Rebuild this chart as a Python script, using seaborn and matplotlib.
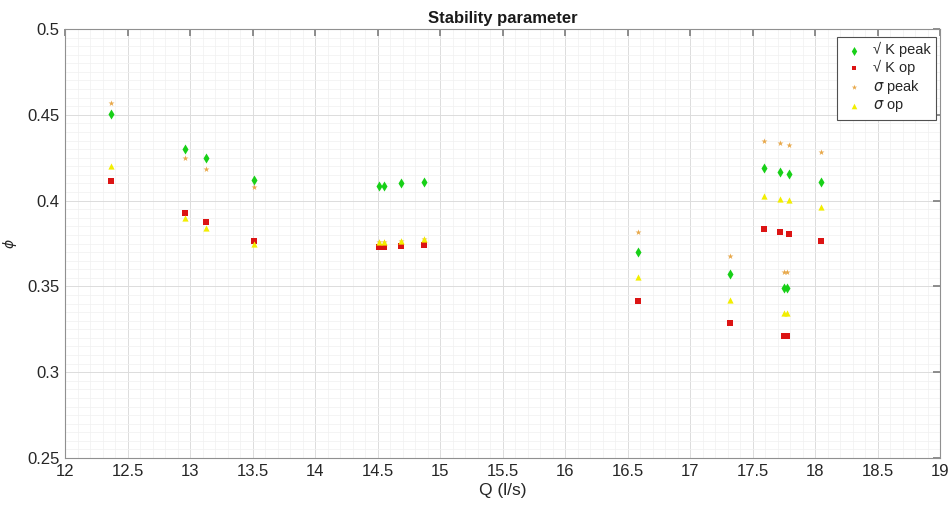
import numpy as np
import pandas as pd
import seaborn as sns
import matplotlib
matplotlib.use("Agg")
import matplotlib.pyplot as plt
from matplotlib.ticker import MultipleLocator, FormatStrFormatter

# Flow rate (l/s) for each operating point
Q = [12.368, 12.96, 13.125, 13.515, 14.51, 14.55, 14.69, 14.87,
     16.585, 17.32, 17.595, 17.72, 17.79, 17.755, 17.775, 18.045]

# Stability parameter phi for each criterion
k_peak = [0.4505, 0.4301, 0.4247, 0.4120, 0.4087, 0.4087, 0.4101, 0.4110,
          0.3702, 0.3570, 0.4188, 0.4165, 0.4155, 0.3489, 0.3489, 0.4110]
k_op = [0.4112, 0.3926, 0.3877, 0.3765, 0.3728, 0.3728, 0.3735, 0.3741,
        0.3415, 0.3287, 0.3835, 0.3815, 0.3804, 0.3213, 0.3213, 0.3765]
s_peak = [0.4571, 0.4247, 0.4184, 0.4078, 0.3761, 0.3761, 0.3766, 0.3774,
          0.3819, 0.3679, 0.4349, 0.4334, 0.4324, 0.3585, 0.3585, 0.4285]
s_op = [0.4203, 0.3900, 0.3842, 0.3745, 0.3761, 0.3761, 0.3766, 0.3774,
        0.3553, 0.3421, 0.4027, 0.4011, 0.4003, 0.3343, 0.3343, 0.3964]

series_labels = ["\u221a K peak", "\u221a K op", r"$\sigma$ peak", r"$\sigma$ op"]

sns.set_theme(style="white")
plt.rcParams["font.family"] = ["Liberation Sans", "DejaVu Sans"]
plt.rcParams["mathtext.fontset"] = "dejavusans"

fig = plt.figure(figsize=(9.52, 5.09), dpi=100)
ax = fig.add_axes([0.0683, 0.1002, 0.9191, 0.8428])

df = pd.DataFrame({"Q": Q, "k_peak": k_peak, "k_op": k_op,
                   "s_peak": s_peak, "s_op": s_op})

styles = [
    ("k_peak", "d", "#18d018", 26),
    ("k_op", "s", "#dc1414", 14),
    ("s_peak", "*", "#e8a84a", 20),
    ("s_op", "^", "#f2ee00", 20),
]
for (col, mk, colr, sz), lab in zip(styles, series_labels):
    sns.scatterplot(data=df, x="Q", y=col, marker=mk, color=colr, s=sz,
                    linewidth=0, ax=ax, label=lab, zorder=3)

ax.set_xlim(12, 19)
ax.set_ylim(0.25, 0.5)
ax.xaxis.set_major_locator(MultipleLocator(0.5))
ax.xaxis.set_minor_locator(MultipleLocator(0.1))
ax.yaxis.set_major_locator(MultipleLocator(0.05))
ax.yaxis.set_minor_locator(MultipleLocator(0.005))
ax.xaxis.set_major_formatter(FormatStrFormatter("%g"))
ax.yaxis.set_major_formatter(FormatStrFormatter("%g"))

ax.grid(which="major", color="#dcdcdc", linewidth=0.7, zorder=0)
ax.grid(which="minor", color="#f0f0f0", linewidth=0.5, zorder=0)
ax.set_axisbelow(True)

for sp in ax.spines.values():
    sp.set_color("#909090")
    sp.set_linewidth(0.8)

ax.tick_params(axis="both", which="major", direction="in", length=5,
               color="#808080", labelsize=12, labelcolor="#262626",
               top=True, right=True, pad=4)
ax.tick_params(axis="both", which="minor", length=0)

ax.set_title("Stability parameter", fontsize=12, fontweight="bold",
             color="#1a1a1a", pad=4)
ax.set_xlabel("Q (l/s)", fontsize=12.5, color="#262626", labelpad=3)
ax.set_ylabel(r"$\phi$", fontsize=10, color="#262626", labelpad=6)

leg = ax.legend(loc="upper right", bbox_to_anchor=(0.9955, 0.981),
                borderaxespad=0, fontsize=10.5, frameon=True, fancybox=False,
                edgecolor="#505050", framealpha=1, handletextpad=0.55,
                borderpad=0.35, labelspacing=0.18, handlelength=1.55,
                markerscale=0.9)
leg.get_frame().set_linewidth(0.8)

fig.savefig("out.png", dpi=100)
